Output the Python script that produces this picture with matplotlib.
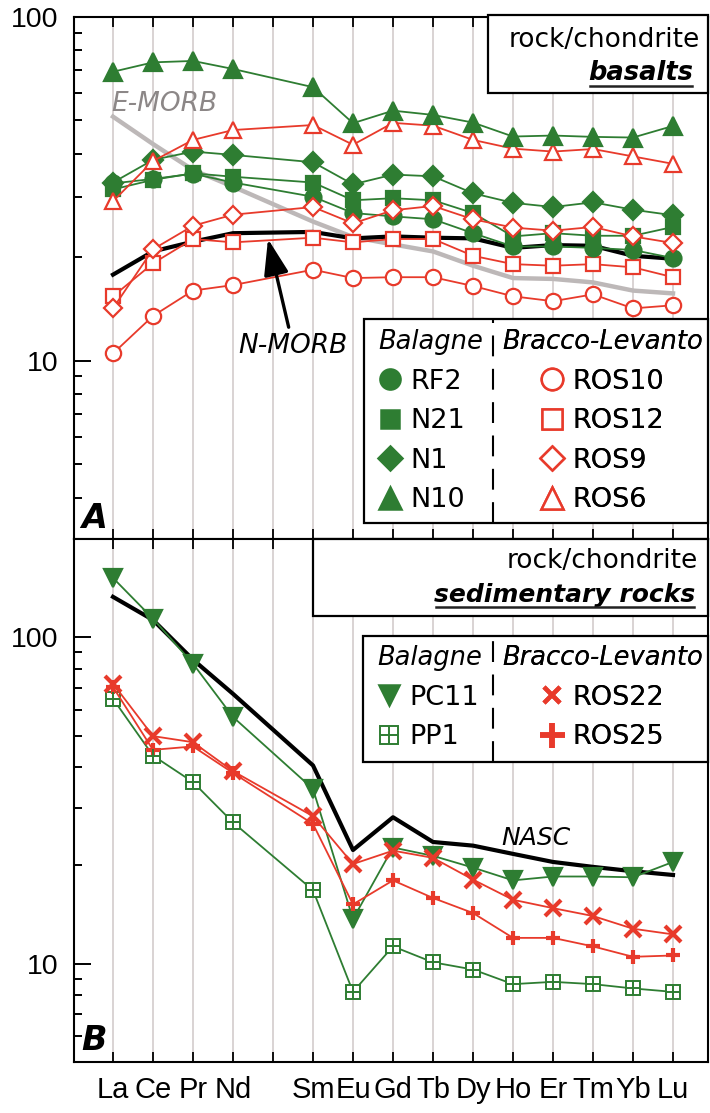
import numpy as np
import matplotlib
matplotlib.use('Agg')
import matplotlib.pyplot as plt
from matplotlib.patches import Rectangle
from matplotlib.lines import Line2D
from matplotlib.ticker import FixedLocator, NullFormatter, FixedFormatter

plt.rcParams['font.family'] = 'DejaVu Sans'

# REE order (Pm left empty)
tick_labels = ['La', 'Ce', 'Pr', 'Nd', '', 'Sm', 'Eu', 'Gd', 'Tb', 'Dy', 'Ho', 'Er', 'Tm', 'Yb', 'Lu']
x_pos = [0, 1, 2, 3, 5, 6, 7, 8, 9, 10, 11, 12, 13, 14]

# basalts (rock/chondrite)
rf2 = [32.8, 33.8, 35.0, 33.0, 30.0, 26.9, 26.3, 25.8, 23.5, 21.5, 21.5, 21.3, 21.0, 19.9]
n21 = [31.5, 33.6, 35.1, 34.3, 33.0, 29.3, 29.7, 29.3, 26.9, 23.0, 23.5, 23.1, 23.1, 24.5]
n1 = [33.0, 38.4, 40.6, 39.7, 37.8, 32.6, 34.8, 34.4, 30.7, 28.8, 28.0, 28.9, 27.5, 26.5]
n10 = [69.3, 73.8, 74.5, 70.6, 62.5, 49.1, 53.4, 51.9, 49.3, 44.9, 45.2, 44.8, 44.6, 48.2]
ros10 = [10.5, 13.5, 16.0, 16.6, 18.4, 17.4, 17.5, 17.5, 16.5, 15.4, 14.9, 15.6, 14.2, 14.5]
ros12 = [15.4, 19.2, 22.6, 22.1, 22.8, 22.1, 22.6, 22.6, 20.2, 19.1, 18.9, 19.1, 18.7, 17.5]
ros9 = [14.2, 21.1, 24.7, 26.6, 28.0, 25.1, 27.4, 28.2, 25.8, 24.4, 23.9, 24.5, 23.0, 22.0]
ros6 = [29.1, 38.1, 43.9, 46.9, 48.5, 42.5, 49.2, 48.3, 43.9, 41.4, 40.6, 41.3, 39.3, 37.4]
n_morb = [17.8, 20.8, 22.2, 23.5, 23.7, 22.7, 23.0, 22.8, 22.7, 21.3, 21.7, 21.6, 20.2, 19.8]
e_morb = [51.3, 42.7, 35.9, 32.1, 25.4, 22.9, 21.8, 20.8, 18.9, 17.4, 17.3, 16.9, 16.0, 15.7]

# sedimentary rocks (rock/chondrite)
pc11 = [152, 114, 83, 57, 34.3, 13.7, 22.7, 21.4, 19.7, 18.0, 18.5, 18.5, 18.4, 20.5]
pp1 = [64.8, 43.4, 36.0, 27.1, 16.8, 8.2, 11.3, 10.1, 9.6, 8.66, 8.8, 8.66, 8.4, 8.2]
ros22 = [72.1, 49.8, 47.7, 38.9, 28.3, 20.2, 22.2, 21.1, 18.1, 15.7, 14.8, 14.0, 12.8, 12.3]
ros25 = [70.4, 45.2, 46.3, 38.4, 26.8, 15.2, 18.0, 15.9, 14.3, 12.0, 12.0, 11.3, 10.5, 10.6]
nasc = [133, 113, 85.4, 67.1, 40.5, 22.3, 28.1, 23.6, 23.0, 21.7, 20.5, 19.8, 19.2, 18.7]

green = '#2e7d32'
red = '#e83a2b'
grid_c = '#cfc7c8'
W, H = 710, 1113

fig = plt.figure(figsize=(W / 100, H / 100), dpi=100)
axA = fig.add_axes([74 / W, (H - 539) / H, 634 / W, 522 / H])
axB = fig.add_axes([74 / W, (H - 1062) / H, 634 / W, 523 / H])


def setup(ax, ylim, minor):
    ax.set_yscale('log')
    ax.set_xlim(-0.975, 14.875)
    ax.set_ylim(*ylim)
    for x in range(15):
        ax.axvline(x, color=grid_c, lw=1.1, zorder=0)
    ax.set_xticks(range(15))
    ax.tick_params(axis='x', which='both', direction='in', top=True, bottom=True,
                   length=7, width=1.3)
    ax.yaxis.set_major_locator(FixedLocator([10, 100]))
    ax.yaxis.set_major_formatter(FixedFormatter(['10', '100']))
    ax.yaxis.set_minor_locator(FixedLocator(minor))
    ax.yaxis.set_minor_formatter(NullFormatter())
    ax.tick_params(axis='y', which='major', direction='in', length=12, width=1.4,
                   labelsize=20.5, pad=11)
    ax.tick_params(axis='y', which='minor', direction='in', length=6, width=1.4)
    for lab in ax.get_yticklabels():
        lab.set_family('Liberation Sans')
    for s in ax.spines.values():
        s.set_linewidth(1.5)


setup(axA, (3.03, 100), [4, 5, 6, 7, 8, 9, 20, 30, 40, 50, 60, 70, 80, 90])
setup(axB, (5, 200), [6, 7, 8, 9, 20, 30, 40, 50, 60, 70, 80, 90])
axA.set_xticklabels([])
axB.set_xticklabels(tick_labels, fontsize=21, family='Liberation Sans')
axB.tick_params(axis='x', pad=10)


def series(ax, y, marker, color, filled, ms, mew=1.6, z=3):
    ax.plot(x_pos, y, color=color, lw=1.3, marker=marker, ms=ms,
            mfc=color if filled else 'white', mec=color, mew=mew, zorder=z)


# panel A
axA.plot(x_pos, e_morb, color='#bdb8b8', lw=3.2, zorder=2.4)
axA.plot(x_pos, n_morb, color='black', lw=3.0, zorder=2.5)
series(axA, ros10, 'o', red, False, 11)
series(axA, ros12, 's', red, False, 10)
series(axA, rf2, 'o', green, True, 11.5)
series(axA, n21, 's', green, True, 10.5)
series(axA, ros9, 'D', red, False, 9.5)
series(axA, n1, 'D', green, True, 10)
series(axA, ros6, '^', red, False, 12)
series(axA, n10, '^', green, True, 12.5)

axA.text(-0.05, 56, 'E-MORB', color='#8c8787', style='italic', fontsize=19,
         ha='left', va='center', zorder=4)
axA.annotate('N-MORB', xy=(3.875, 22.6), xytext=(4.5, 11.06), fontsize=19,
             style='italic', ha='center', va='center', zorder=4,
             arrowprops=dict(arrowstyle='-|>,head_length=1.1,head_width=0.38',
                             mutation_scale=20, color='black', lw=2.4,
                             shrinkA=2, shrinkB=0))

# panel B
axB.plot(x_pos, nasc, color='black', lw=3.0, zorder=2.5)
axB.plot(x_pos, pp1, color=green, lw=1.3, marker='s', ms=10.5, mfc='white',
         mec=green, mew=1.4, zorder=3)
axB.plot(x_pos, pp1, ls='none', marker='+', ms=10.5, mec=green, mew=1.4, zorder=3.1)
series(axB, pc11, 'v', green, True, 12.5)
axB.plot(x_pos, ros25, color=red, lw=1.3, marker='+', ms=9.5, mew=3, zorder=3)
axB.plot(x_pos, ros22, color=red, lw=1.3, marker='x', ms=11, mew=3, zorder=3)
axB.text(10.58, 24.2, 'NASC', style='italic', fontsize=18, ha='center',
         va='center', zorder=4)

# panel letters
axA.text(0.012, 0.021, 'A', transform=axA.transAxes, fontsize=24,
         weight='bold', style='italic', ha='left', va='baseline')
axB.text(0.012, 0.023, 'B', transform=axB.transAxes, fontsize=24,
         weight='bold', style='italic', ha='left', va='baseline')


def box(ax, x0, y0, x1, y1):
    ax.add_patch(Rectangle((x0, y0), x1 - x0, y1 - y0, transform=ax.transAxes,
                           fc='white', ec='black', lw=1.6, zorder=5,
                           clip_on=False))


# title boxes
box(axA, 0.653, 0.8544, 1.0, 1.0038)
axA.text(0.987, 0.9425, 'rock/chondrite', transform=axA.transAxes, fontsize=19,
         ha='right', va='baseline', zorder=6)
tA = axA.text(0.976, 0.879, 'basalts', transform=axA.transAxes, fontsize=18.5,
              weight='bold', style='italic', ha='right', va='baseline', zorder=6)
box(axB, 0.377, 0.8528, 1.0, 1.0)
axB.text(0.984, 0.944, 'rock/chondrite', transform=axB.transAxes, fontsize=19,
         ha='right', va='baseline', zorder=6)
tB = axB.text(0.9795, 0.880, 'sedimentary rocks', transform=axB.transAxes,
              fontsize=18, weight='bold', style='italic', ha='right',
              va='baseline', zorder=6)

# legend boxes
box(axA, 0.457, 0.0307, 1.0, 0.4215)
axA.plot([0.661, 0.661], [0.0307, 0.4215], transform=axA.transAxes, color='black',
         lw=1.5, ls=(0, (10, 6)), zorder=6, clip_on=False)
box(axB, 0.456, 0.5736, 1.0, 0.8145)
axB.plot([0.661, 0.661], [0.5736, 0.8145], transform=axB.transAxes, color='black',
         lw=1.5, ls=(0, (10, 6)), zorder=6, clip_on=False)


def handle(marker, color, filled, ms, mew=1.8):
    return Line2D([], [], ls='none', marker=marker, ms=ms,
                  mfc=color if filled else 'white', mec=color, mew=mew)


def legend(ax, handles, labels, title, anchor, align):
    leg = ax.legend(handles, labels, title=title, loc='upper left',
                    bbox_to_anchor=anchor, bbox_transform=ax.transAxes,
                    frameon=False, fontsize=19.5,
                    title_fontproperties={'style': 'italic', 'size': 18.5},
                    handlelength=0.9, handletextpad=0.3, labelspacing=0.5,
                    borderpad=0, borderaxespad=0, alignment=align)
    leg.set_zorder(7)
    ax.add_artist(leg)


legend(axA, [handle('o', green, True, 14.5), handle('s', green, True, 13.5),
             handle('D', green, True, 12), handle('^', green, True, 15.5)],
       ['RF2', 'N21', 'N1', 'N10'], 'Balagne', (0.4795, 0.402), 'left')
legend(axA, [handle('o', red, False, 15.5), handle('s', red, False, 14),
             handle('D', red, False, 12.5), handle('^', red, False, 16)],
       ['ROS10', 'ROS12', 'ROS9', 'ROS6'], 'Bracco-Levanto', (0.675, 0.402), 'center')
pp1_handle = (handle('s', green, False, 13, 1.4), handle('+', green, False, 13, 1.4))
legend(axB, [handle('v', green, True, 14.5), pp1_handle],
       ['PC11', 'PP1'], 'Balagne', (0.478, 0.797), 'left')
legend(axB, [handle('x', red, True, 12, 3.2), handle('+', red, True, 18, 4)],
       ['ROS22', 'ROS25'], 'Bracco-Levanto', (0.675, 0.797), 'center')

# underline the bold titles
fig.canvas.draw()
for ax, t, yl in [(axA, tA, 0.8678), (axB, tB, 0.8694)]:
    bb = t.get_window_extent()
    inv = ax.transAxes.inverted()
    (x0, _), (x1, _) = inv.transform([[bb.x0, bb.y0], [bb.x1, bb.y1]])
    ax.add_line(Line2D([x0 + 0.004, x1 - 0.002], [yl, yl], transform=ax.transAxes,
                       color='#222222', lw=1.8, zorder=6, clip_on=False))

fig.savefig('out.png', dpi=100)
